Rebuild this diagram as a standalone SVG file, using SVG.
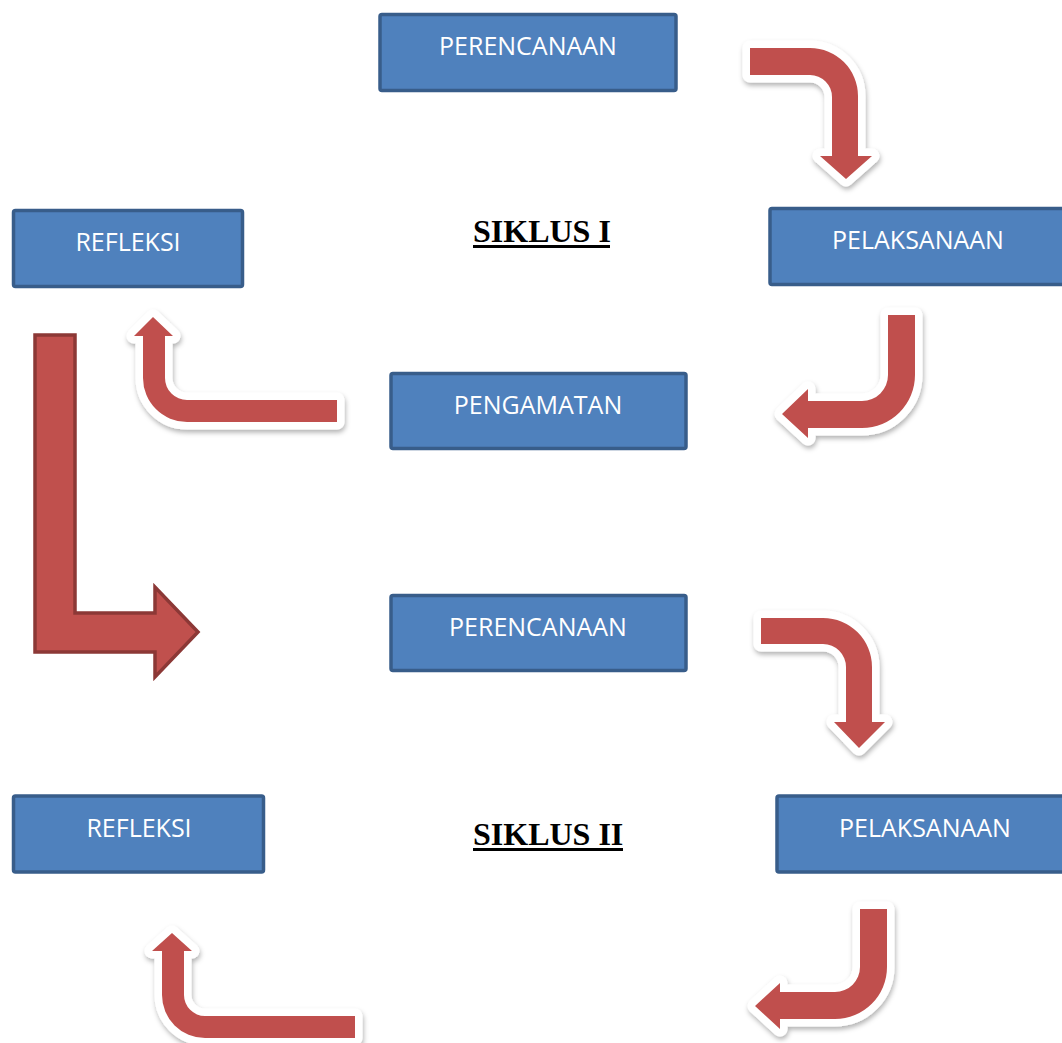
<svg xmlns="http://www.w3.org/2000/svg" width="1062" height="1043" viewBox="0 0 1062 1043">
<style>
.box{fill:#4F81BD;stroke:#385D8A;stroke-width:3.5}
.lbl{font-family:"Open Sans","Liberation Sans",sans-serif;font-size:25px;fill:#FFFFFF;text-anchor:middle}
.ttl{font-family:"Liberation Serif","Times New Roman",serif;font-size:32px;font-weight:bold;fill:#000}
.arr{fill:#C0504D;stroke:#FFFFFF;stroke-width:15;stroke-linejoin:round;paint-order:stroke;filter:url(#sh)}
.big{fill:#C0504D;stroke:#8C3836;stroke-width:3.5}
</style>
<defs>
<filter id="sh" x="-20%" y="-20%" width="150%" height="150%">
<feDropShadow dx="1" dy="3" stdDeviation="2.5" flood-color="#000" flood-opacity="0.3"/>
</filter>
</defs>
<rect width="1062" height="1043" fill="#FFFFFF"/>
<g id="connectors">
<path class="arr" d="M750,48 H810 A48,48 0 0 1 858,96 V156 H872 L846,179 L820,156 H832 V97 A22,22 0 0 0 810,75 H750 Z"/>
<path class="arr" d="M888,315 H915 V375 A53,53 0 0 1 862,428 H808 V438 L782,414 L808,389 V401 H862 A26,26 0 0 0 888,375 Z"/>
<path class="arr" d="M337,400 H187 A22,22 0 0 1 165,378 V336 H173 L153,317 L134,336 H143 V378 A44,44 0 0 0 187,422 H337 Z"/>
<path class="big" d="M35,335 H75 V613 H155 V587 L198,632 L155,677 V652 H35 Z"/>
<path class="arr" d="M761,618 H823 A49,49 0 0 1 872,667 V722 H885 L859,748 L834,722 H846 V667 A23,23 0 0 0 823,644 H761 Z"/>
<path class="arr" d="M860,909 H887 V967 A52,52 0 0 1 835,1019 H780 V1029 L755,1006 L780,983 V992 H835 A25,25 0 0 0 860,967 Z"/>
<path class="arr" d="M355,1016 H205 A21,21 0 0 1 184,995 V951 H192 L172,933 L152,951 H162 V995 A43,43 0 0 0 205,1038 H355 Z"/>
</g>
<g id="perencanaan1"><rect class="box" x="380" y="14.5" width="296" height="76" rx="2"/><text class="lbl" x="528" y="55">PERENCANAAN</text></g>
<g id="refleksi1"><rect class="box" x="13.5" y="210.5" width="229" height="76" rx="2"/><text class="lbl" x="128" y="251">REFLEKSI</text></g>
<g id="pelaksanaan1"><rect class="box" x="770" y="208.5" width="300" height="76" rx="2"/><text class="lbl" x="918" y="249">PELAKSANAAN</text></g>
<g id="pengamatan"><rect class="box" x="391" y="373.5" width="295" height="75" rx="2"/><text class="lbl" x="538" y="414">PENGAMATAN</text></g>
<g id="perencanaan2"><rect class="box" x="391" y="595.5" width="295" height="75" rx="2"/><text class="lbl" x="538" y="636">PERENCANAAN</text></g>
<g id="refleksi2"><rect class="box" x="13.5" y="796" width="250" height="76" rx="2"/><text class="lbl" x="139" y="837">REFLEKSI</text></g>
<g id="pelaksanaan2"><rect class="box" x="777" y="796" width="300" height="76" rx="2"/><text class="lbl" x="925" y="837">PELAKSANAAN</text></g>
<g id="siklus1"><text class="ttl" x="473" y="242">SIKLUS I</text><rect x="473" y="245" width="137" height="3" fill="#000"/></g>
<g id="siklus2"><text class="ttl" x="473" y="845">SIKLUS II</text><rect x="473" y="848" width="150" height="3" fill="#000"/></g>
</svg>
